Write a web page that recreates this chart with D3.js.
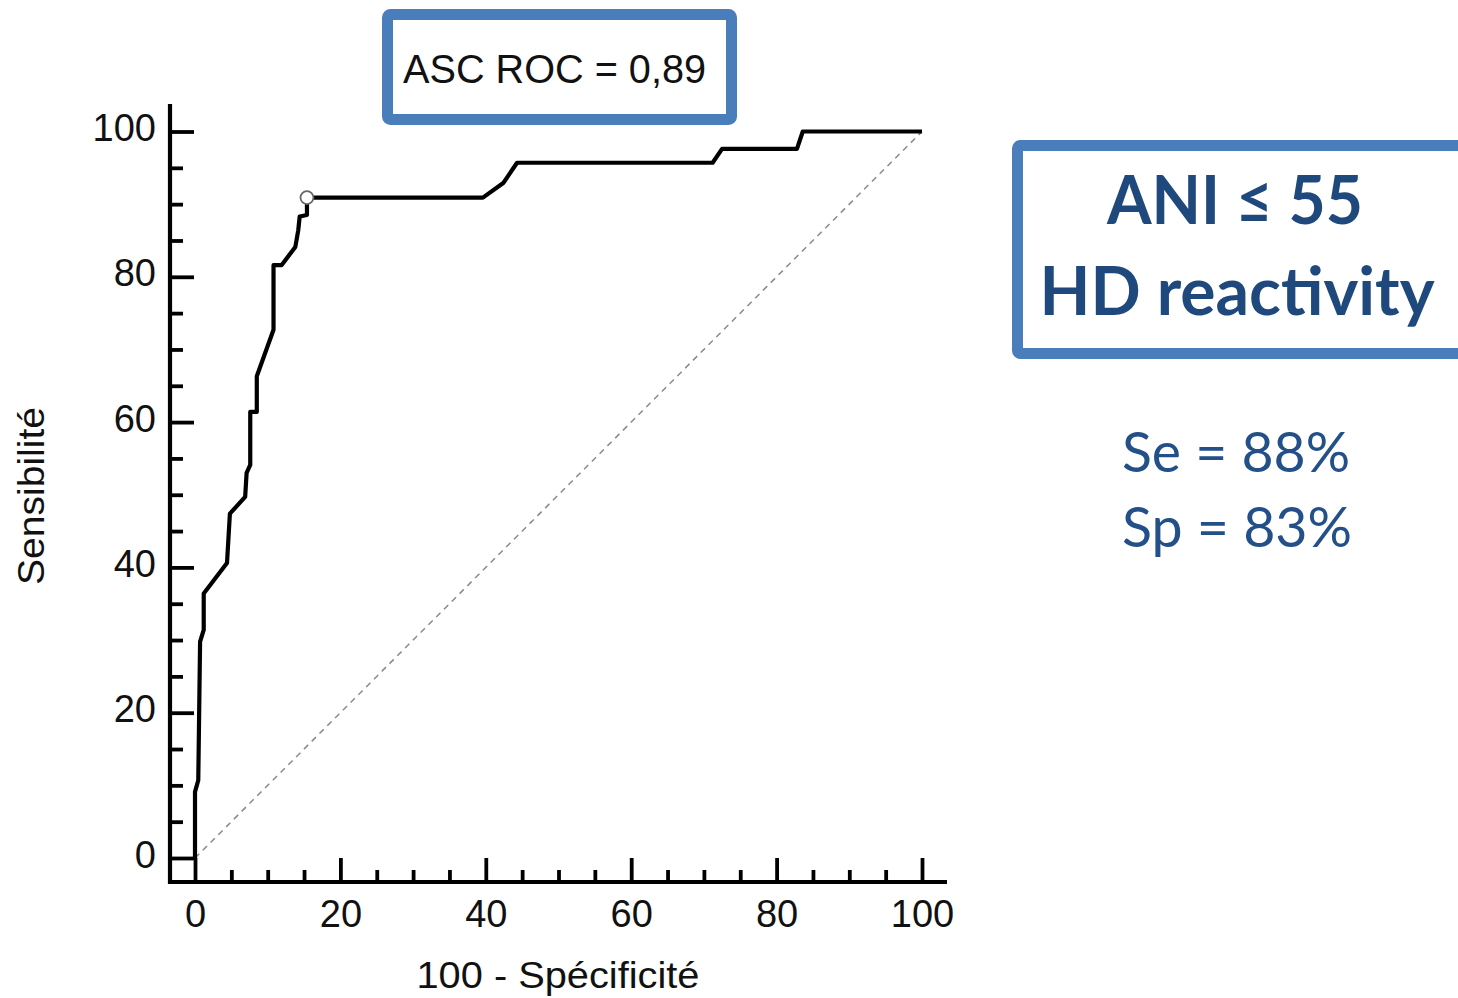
<!DOCTYPE html>
<html>
<head>
<meta charset="utf-8">
<script src="https://cdn.jsdelivr.net/npm/d3@7"></script>
<style>
  html, body { margin: 0; padding: 0; background: #ffffff; overflow: hidden; }
  svg { display: block; }
</style>
</head>
<body>
<svg id="chart" width="1458" height="998"></svg>
<script>
// ---- data ----
const fpr = [0, 0, 0.45, 0.7, 1.2, 1.2, 4.4, 4.8, 6.9, 7.1, 7.6, 7.6, 8.5, 8.5, 10.8, 10.8, 11.9, 13.8, 14.2, 14.4, 15.4, 15.4, 39.6, 42.4, 44.3, 71.2, 72.5, 82.8, 83.6, 100];
const tpr = [0, 9.1, 10.7, 29.8, 31.4, 36.4, 40.6, 47.4, 49.7, 53.0, 54.1, 61.4, 61.4, 66.3, 72.7, 81.6, 81.6, 84.1, 86.4, 88.3, 88.5, 90.9, 90.9, 92.9, 95.7, 95.7, 97.6, 97.6, 100, 100];
const cutoffPoint = [15.4, 90.9];
const diagonal = [[0, 0], [100, 100]];
const majorTicks = [0, 20, 40, 60, 80, 100];
const minorTicks = [5, 10, 15, 25, 30, 35, 45, 50, 55, 65, 70, 75, 85, 90, 95];
const xTitle = "100 - Spécificité";
const yTitle = "Sensibilité";
const aucLabel = "ASC ROC = 0,89";
const boxLines = ["ANI ≤ 55", "HD reactivity"];
const statLines = ["Se = 88%", "Sp = 83%"];

const svg = d3.select("#chart");
const x = d3.scaleLinear().domain([0, 100]).range([195, 922]);
const y = d3.scaleLinear().domain([0, 100]).range([858, 131.5]);
const axisX = 170, axisY = 882;
const tickFont = "'Liberation Sans', Arial, sans-serif";
const blue = "#4A7EBB";
const dark = "#1F497D";

// diagonal reference line
svg.append("path")
  .attr("d", d3.line().x(d => x(d[0])).y(d => y(d[1]))(diagonal))
  .attr("fill", "none").attr("stroke", "#8a8a8a").attr("stroke-width", 1.5)
  .attr("stroke-dasharray", "6,5");

// Y axis
const gy = svg.append("g").attr("transform", `translate(${axisX},0)`);
gy.call(d3.axisLeft(y).tickValues(majorTicks).tickSize(-24).tickPadding(14).tickFormat(d3.format("d")));
const gyMinor = svg.append("g").attr("transform", `translate(${axisX},0)`);
gyMinor.call(d3.axisLeft(y).tickValues(minorTicks).tickSize(-13).tickFormat(""));

// X axis
const gx = svg.append("g").attr("transform", `translate(0,${axisY})`);
gx.call(d3.axisBottom(x).tickValues(majorTicks).tickSize(-24).tickPadding(18).tickFormat(d3.format("d")));
const gxMinor = svg.append("g").attr("transform", `translate(0,${axisY})`);
gxMinor.call(d3.axisBottom(x).tickValues(minorTicks).tickSize(-12).tickFormat(""));

svg.selectAll(".domain").remove();
svg.selectAll(".tick line").attr("stroke", "#000").attr("stroke-width", 3.8);
svg.selectAll(".tick text")
  .attr("font-family", tickFont).attr("font-size", 38).attr("fill", "#111");
gy.selectAll(".tick text").attr("dy", "0.24em");

// axis lines
svg.append("line").attr("x1", axisX).attr("x2", axisX).attr("y1", 104).attr("y2", axisY + 2)
  .attr("stroke", "#000").attr("stroke-width", 4.2);
svg.append("line").attr("x1", axisX - 2).attr("x2", 947).attr("y1", axisY).attr("y2", axisY)
  .attr("stroke", "#000").attr("stroke-width", 4.2);

// ROC curve
const pts = fpr.map((v, i) => [v, tpr[i]]);
svg.append("path")
  .attr("d", d3.line().x(d => x(d[0])).y(d => y(d[1]))(pts))
  .attr("fill", "none").attr("stroke", "#000").attr("stroke-width", 4.2)
  .attr("stroke-linejoin", "round");

// cutoff point
svg.append("circle")
  .attr("cx", x(cutoffPoint[0])).attr("cy", y(cutoffPoint[1])).attr("r", 6.5)
  .attr("fill", "#fff").attr("stroke", "#666").attr("stroke-width", 1.8);

// axis titles
svg.append("text")
  .attr("x", 558).attr("y", 988).attr("text-anchor", "middle")
  .attr("font-family", tickFont).attr("font-size", 37).attr("fill", "#111")
  .attr("textLength", 283).attr("lengthAdjust", "spacingAndGlyphs")
  .text(xTitle);
svg.append("text")
  .attr("transform", "translate(44,496) rotate(-90)").attr("text-anchor", "middle")
  .attr("font-family", tickFont).attr("font-size", 37).attr("fill", "#111")
  .attr("textLength", 178).attr("lengthAdjust", "spacingAndGlyphs")
  .text(yTitle);

// AUC box
svg.append("rect")
  .attr("x", 387.5).attr("y", 14.5).attr("width", 344).attr("height", 105).attr("rx", 3)
  .attr("fill", "#fff").attr("stroke", blue).attr("stroke-width", 11);
svg.append("text")
  .attr("x", 403).attr("y", 83)
  .attr("font-family", tickFont).attr("font-size", 41).attr("fill", "#111")
  .attr("textLength", 303).attr("lengthAdjust", "spacingAndGlyphs")
  .text(aucLabel);

// right box
svg.append("rect")
  .attr("x", 1017.5).attr("y", 145.5).attr("width", 520).attr("height", 208).attr("rx", 3)
  .attr("fill", "#fff").attr("stroke", blue).attr("stroke-width", 11);
const boxSpecs = [{cx: 1235, y: 224, w: 256}, {cx: 1237, y: 315, w: 395}];
boxLines.forEach((t, i) => {
  svg.append("text")
    .attr("x", boxSpecs[i].cx).attr("y", boxSpecs[i].y).attr("text-anchor", "middle")
    .attr("font-family", "Lato, 'Open Sans', sans-serif").attr("font-weight", "bold")
    .attr("font-size", 66).attr("fill", dark)
    .attr("textLength", boxSpecs[i].w).attr("lengthAdjust", "spacingAndGlyphs")
    .text(t);
});
const statSpecs = [{cx: 1236, y: 472, w: 228}, {cx: 1237, y: 547, w: 230}];
statLines.forEach((t, i) => {
  svg.append("text")
    .attr("x", statSpecs[i].cx).attr("y", statSpecs[i].y).attr("text-anchor", "middle")
    .attr("font-family", "Lato, 'Open Sans', sans-serif")
    .attr("font-size", 57).attr("fill", "#24508A")
    .attr("textLength", statSpecs[i].w).attr("lengthAdjust", "spacingAndGlyphs")
    .text(t);
});
</script>
</body>
</html>
